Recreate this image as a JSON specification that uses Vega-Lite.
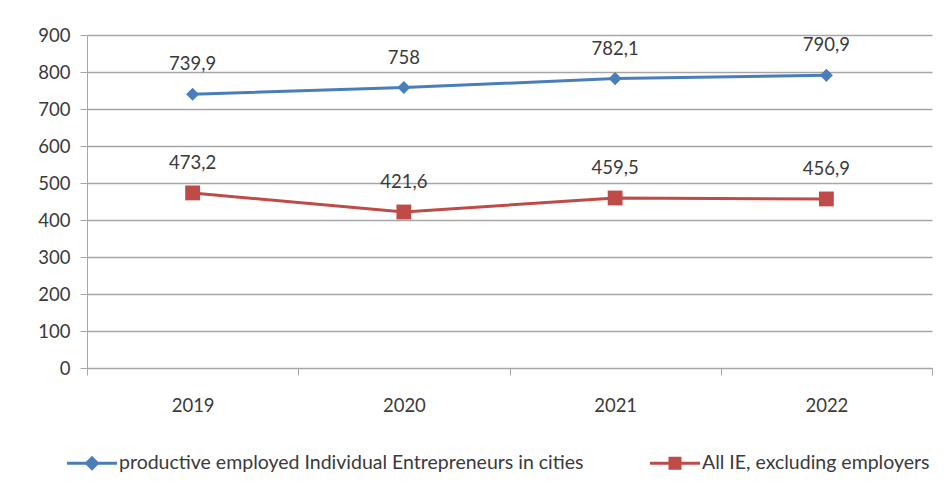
{
  "$schema": "https://vega.github.io/schema/vega-lite/v6.json",
  "width": 845,
  "height": 333,
  "autosize": "none",
  "padding": {"left": 87, "top": 35, "right": 12, "bottom": 117},
  "background": "white",
  "config": {
    "locale": {"number": {"decimal": ",", "thousands": " ", "grouping": [3], "currency": ["", ""]}},
    "font": "Lato",
    "view": {"stroke": null}
  },
  "data": {
    "values": [
      {"series": "productive employed Individual Entrepreneurs in cities", "year": "2019", "value": 739.9},
      {"series": "productive employed Individual Entrepreneurs in cities", "year": "2020", "value": 758},
      {"series": "productive employed Individual Entrepreneurs in cities", "year": "2021", "value": 782.1},
      {"series": "productive employed Individual Entrepreneurs in cities", "year": "2022", "value": 790.9},
      {"series": "All IE, excluding employers", "year": "2019", "value": 473.2},
      {"series": "All IE, excluding employers", "year": "2020", "value": 421.6},
      {"series": "All IE, excluding employers", "year": "2021", "value": 459.5},
      {"series": "All IE, excluding employers", "year": "2022", "value": 456.9}
    ]
  },
  "encoding": {
    "x": {
      "field": "year", "type": "ordinal",
      "scale": {"type": "band", "paddingInner": 0, "paddingOuter": 0},
      "axis": {
        "title": null, "labelAngle": 0, "labelFontSize": 18.5, "labelColor": "#3a3a3a",
        "labelPadding": 21, "tickBand": "extent", "tickSize": 7, "tickColor": "#a6a6a6",
        "domainColor": "#a6a6a6", "grid": false
      }
    },
    "y": {
      "field": "value", "type": "quantitative",
      "scale": {"domain": [0, 900], "nice": false},
      "axis": {
        "title": null, "values": [0, 100, 200, 300, 400, 500, 600, 700, 800, 900],
        "labelFontSize": 18.5, "labelColor": "#3a3a3a", "labelPadding": 10,
        "tickSize": 7, "tickColor": "#a6a6a6", "domainColor": "#a6a6a6",
        "gridColor": "#a6a6a6", "gridWidth": 1.3
      }
    }
  },
  "layer": [
    {
      "mark": {"type": "line", "strokeWidth": 3},
      "encoding": {
        "color": {
          "field": "series", "type": "nominal",
          "scale": {
            "domain": ["productive employed Individual Entrepreneurs in cities", "All IE, excluding employers"],
            "range": ["#4a7ebb", "#be4b48"]
          },
          "legend": {
            "title": null, "orient": "none", "direction": "horizontal",
            "legendX": -20, "legendY": 403,
            "labelFontSize": 19.5, "labelColor": "#3a3a3a", "labelOffset": 2, "labelLimit": 0,
            "columnPadding": 66,
            "symbolSize": 2500, "symbolOpacity": 1, "symbolStrokeWidth": 0,
            "encode": {
              "symbols": {
                "update": {
                  "fill": {"scale": "color", "field": "value"},
                  "strokeWidth": {"value": 0},
                  "shape": [
                    {"test": "datum.value === 'All IE, excluding employers'", "value": "M-1,-0.06H1V0.06H-1Z M-0.26,-0.26H0.26V0.26H-0.26Z"},
                    {"value": "M-1,-0.06H1V0.06H-1Z M0,-0.3L0.3,0L0,0.3L-0.3,0Z"}
                  ]
                }
              }
            }
          }
        }
      }
    },
    {
      "transform": [{"filter": "datum.series === 'productive employed Individual Entrepreneurs in cities'"}],
      "mark": {"type": "point", "filled": true, "opacity": 1, "shape": "diamond", "size": 170, "color": "#4a7ebb"}
    },
    {
      "transform": [{"filter": "datum.series === 'All IE, excluding employers'"}],
      "mark": {"type": "point", "filled": true, "opacity": 1, "shape": "square", "size": 220, "color": "#be4b48"}
    },
    {
      "mark": {"type": "text", "dy": -30, "fontSize": 18.5, "color": "#3a3a3a"},
      "encoding": {
        "text": {"field": "value", "type": "quantitative", "format": ".1~f"}
      }
    }
  ]
}
